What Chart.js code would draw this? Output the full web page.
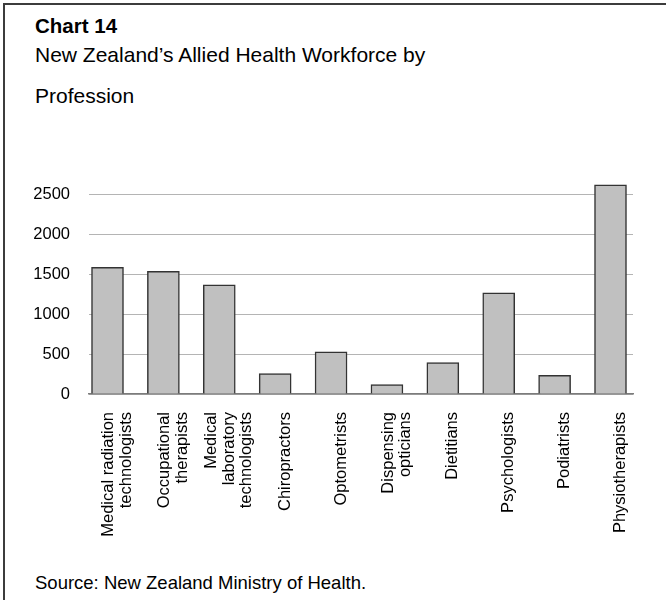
<!DOCTYPE html>
<html>
<head>
<meta charset="utf-8">
<title>Chart 14</title>
<script src="https://cdn.jsdelivr.net/npm/chart.js@4.4.1/dist/chart.umd.min.js"></script>
<style>
  html, body { margin: 0; padding: 0; background: #fff; }
  body {
    width: 666px; height: 600px; position: relative; overflow: hidden;
    font-family: 'Liberation Sans', Arial, sans-serif; color: #000;
  }
  .frame {
    position: absolute; left: 3px; top: 3px; width: 700px; height: 700px;
    border-left: 2px solid #3c3c3c; border-top: 2px solid #3c3c3c;
  }
  .title    { position: absolute; left: 35px; top: 16px; font-size: 20.5px; font-weight: bold; line-height: 20.5px; white-space: nowrap; }
  .subtitle { position: absolute; left: 35px; top: 33.6px; font-size: 21px; line-height: 41.6px; white-space: nowrap; }
  .source   { position: absolute; left: 35px; top: 573.6px; font-size: 18.5px; line-height: 18.5px; white-space: nowrap; }
  #chartWrap { position: absolute; left: 0; top: 150px; width: 666px; height: 420px; }
</style>
</head>
<body>
<div class="frame"></div>
<div class="title">Chart 14</div>
<div class="subtitle">New Zealand’s Allied Health Workforce by<br>Profession</div>
<div id="chartWrap"><canvas id="workforceChart" width="666" height="420"></canvas></div>
<div class="source">Source: New Zealand Ministry of Health.</div>

<script>
'use strict';

/* ── data ── */
const PROFESSIONS = [
    ['Medical radiation', 'technologists'],
    ['Occupational', 'therapists'],
    ['Medical', 'laboratory', 'technologists'],
    'Chiropractors',
    'Optometrists',
    ['Dispensing', 'opticians'],
    'Dietitians',
    'Psychologists',
    'Podiatrists',
    'Physiotherapists',
];
const WORKFORCE = [1590, 1539, 1369, 255, 530, 117, 395, 1270, 234, 2626];
const Y_TICKS = [0, 500, 1000, 1500, 2000, 2500];

/* ── layout / style ── */
const FONT = "'Liberation Sans', Arial, sans-serif";
const LABEL_SIZE = 16.5;
const LABEL_LINE = 1.05;
const X_MIN = -0.331;
const X_MAX = 9.4026;
const PLOT_WIDTH = 544;                       // chart area width in px
const UNIT_PER_PX = (X_MAX - X_MIN) / PLOT_WIDTH;

// label block shift (px): centre stacked lines on the bar, nudged right like the source
const lineCount = i => Array.isArray(PROFESSIONS[i]) ? PROFESSIONS[i].length : 1;
const labelShift = i => 10 - (lineCount(i) - 1) * LABEL_SIZE * LABEL_LINE / 2;

const ctx = document.getElementById('workforceChart').getContext('2d');

new Chart(ctx, {
    type: 'bar',
    data: {
        datasets: [{
            data: WORKFORCE.map((v, i) => ({ x: i, y: v })),
            backgroundColor: '#c0c0c0',
            borderColor: '#333333',
            borderWidth: 1.5,
            barThickness: 32,
        }],
    },
    options: {
        responsive: false,
        animation: false,
        layout: { padding: { left: 34, right: 33, top: 16.5, bottom: 0 } },
        plugins: {
            legend: { display: false },
            tooltip: { enabled: false },
        },
        scales: {
            x: {
                type: 'linear',
                offset: false,
                min: X_MIN,
                max: X_MAX,
                afterBuildTicks: axis => {
                    axis.ticks = PROFESSIONS.map((_, i) => ({ value: i + labelShift(i) * UNIT_PER_PX }));
                },
                afterFit: axis => { axis.height = 176; },
                grid: { display: false, drawTicks: false },
                border: { display: true, color: '#7c7c7c', width: 1.5 },
                ticks: {
                    autoSkip: false,
                    minRotation: 90,
                    maxRotation: 90,
                    padding: 18,
                    color: '#000',
                    font: { family: FONT, size: LABEL_SIZE, lineHeight: LABEL_LINE },
                    callback: (v, i) => PROFESSIONS[i],
                },
            },
            y: {
                min: 0,
                max: 2700,
                afterBuildTicks: axis => { axis.ticks = Y_TICKS.map(v => ({ value: v })); },
                afterFit: axis => { axis.width = 55; },
                grid: { color: '#b4b4b4', lineWidth: 1, drawTicks: false },
                border: { display: false },
                ticks: {
                    padding: 19,
                    color: '#000',
                    font: { family: FONT, size: LABEL_SIZE },
                    callback: v => String(v),
                },
            },
        },
    },
});
</script>
</body>
</html>
